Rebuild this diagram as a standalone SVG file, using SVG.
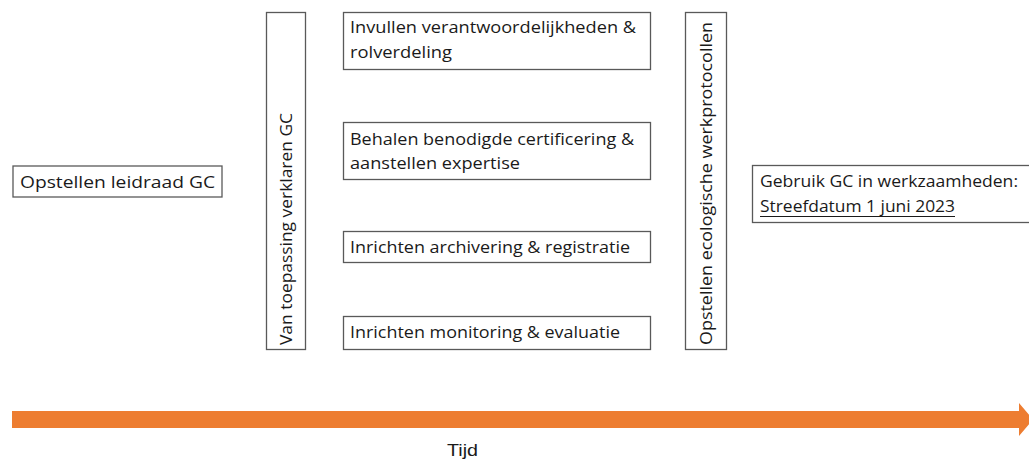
<svg xmlns="http://www.w3.org/2000/svg" width="1029" height="459" viewBox="0 0 1029 459">
<style>
.box{fill:#fff;stroke:#595959;stroke-width:1.3}
.t{font-family:"Open Sans","Liberation Sans",sans-serif;font-size:16px;fill:#1a1a1a}
.tijd{font-family:"Liberation Sans",sans-serif;font-size:16px;fill:#1a1a1a}
</style>
<rect width="1029" height="459" fill="#fff"/>
<g id="node-leidraad"><rect class="box" x="13" y="166" width="209" height="31"/><text class="t" x="20" y="188" textLength="195" lengthAdjust="spacingAndGlyphs">Opstellen leidraad GC</text></g>
<g id="node-toepassing"><rect class="box" x="266.5" y="12.5" width="39" height="337"/><text class="t" transform="translate(292,345) rotate(-90)" textLength="232" lengthAdjust="spacingAndGlyphs">Van toepassing verklaren GC</text></g>
<g id="node-invullen"><rect class="box" x="343.5" y="12.5" width="307" height="57"/><text class="t" x="350" y="33" textLength="286" lengthAdjust="spacingAndGlyphs">Invullen verantwoordelijkheden &amp;</text><text class="t" x="350" y="58" textLength="102" lengthAdjust="spacingAndGlyphs">rolverdeling</text></g>
<g id="node-behalen"><rect class="box" x="343.5" y="122.5" width="307" height="57"/><text class="t" x="350" y="145" textLength="284" lengthAdjust="spacingAndGlyphs">Behalen benodigde certificering &amp;</text><text class="t" x="350" y="169" textLength="170" lengthAdjust="spacingAndGlyphs">aanstellen expertise</text></g>
<g id="node-archivering"><rect class="box" x="343.5" y="231.5" width="307" height="31"/><text class="t" x="350" y="253" textLength="280" lengthAdjust="spacingAndGlyphs">Inrichten archivering &amp; registratie</text></g>
<g id="node-monitoring"><rect class="box" x="343.5" y="316.5" width="307" height="33"/><text class="t" x="350" y="338" textLength="270" lengthAdjust="spacingAndGlyphs">Inrichten monitoring &amp; evaluatie</text></g>
<g id="node-werkprotocollen"><rect class="box" x="685.5" y="12.5" width="41" height="337"/><text class="t" transform="translate(712,345) rotate(-90)" textLength="323" lengthAdjust="spacingAndGlyphs">Opstellen ecologische werkprotocollen</text></g>
<g id="node-gebruik"><rect class="box" x="752.5" y="165.5" width="290" height="57"/><text class="t" x="760" y="187" textLength="258" lengthAdjust="spacingAndGlyphs">Gebruik GC in werkzaamheden:</text><text class="t" x="760" y="212" textLength="195" lengthAdjust="spacingAndGlyphs">Streefdatum 1 juni 2023</text><line x1="760" y1="216.5" x2="955" y2="216.5" stroke="#1a1a1a" stroke-width="1.2"/></g>
<g id="connectors"><polygon points="12,411 1019,411 1019,403 1033,419.5 1019,436 1019,428 12,428" fill="#ed7d31"/></g>
<g id="label-tijd"><text class="tijd" x="447" y="456" textLength="31" lengthAdjust="spacingAndGlyphs">Tijd</text></g>
</svg>
